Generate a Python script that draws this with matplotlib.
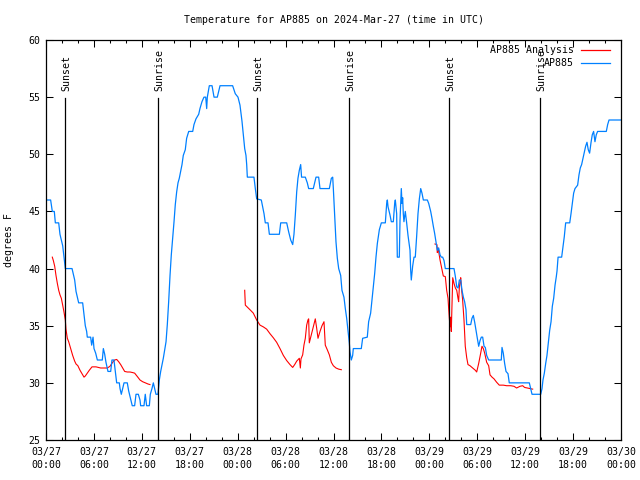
import matplotlib
matplotlib.use("Agg")
import matplotlib.pyplot as plt
import matplotlib.transforms as mtransforms
from matplotlib.lines import Line2D
from matplotlib.ticker import MultipleLocator, FixedLocator, FixedFormatter

# ---------------- data ----------------
title = "Temperature for AP885 on 2024-Mar-27 (time in UTC)"
ylabel = "degrees F"

xtick_hours = [0, 6, 12, 18, 24, 30, 36, 42, 48, 54, 60, 66, 72]
xtick_labels = ["03/27\n00:00", "03/27\n06:00", "03/27\n12:00", "03/27\n18:00",
                "03/28\n00:00", "03/28\n06:00", "03/28\n12:00", "03/28\n18:00",
                "03/29\n00:00", "03/29\n06:00", "03/29\n12:00", "03/29\n18:00",
                "03/30\n00:00"]
ytick_values = [25, 30, 35, 40, 45, 50, 55, 60]

sun_hours = [2.42, 14.06, 26.42, 37.98, 50.5, 61.9]
sun_labels = ["Sunset", "Sunrise", "Sunset", "Sunrise", "Sunset", "Sunrise"]

# AP885 observations (hours since 03/27 00:00 UTC, deg F)
obs_hours = [0.0, 0.58, 0.79, 1.04, 1.17, 1.59, 1.75, 1.92, 2.09, 2.25, 2.42, 3.26, 3.42, 3.59,
             3.76, 3.92, 4.09, 4.59, 4.76, 4.92, 5.09, 5.17, 5.59, 5.72, 5.89, 6.01, 6.22, 6.43,
             7.05, 7.18, 7.35, 7.51, 7.76, 8.10, 8.26, 8.51, 8.68, 8.85, 9.18, 9.27, 9.43, 9.6,
             9.77, 10.18, 10.35, 10.6, 10.8, 11.1, 11.27, 11.56, 11.77, 11.85, 12.27, 12.43,
             12.6, 12.94, 13.06, 13.27, 13.44, 13.6, 13.77, 14.02, 14.19, 14.36, 14.53, 14.69,
             14.86, 15.03, 15.19, 15.36, 15.53, 15.69, 15.86, 16.03, 16.19, 16.36, 16.53, 16.69,
             16.86, 17.03, 17.19, 17.44, 17.61, 17.87, 18.37, 18.53, 18.78, 19.12, 19.28, 19.53,
             19.78, 20.0, 20.12, 20.2, 20.45, 20.79, 21.04, 21.45, 21.79, 23.37, 23.7, 24.04,
             24.29, 24.54, 24.71, 24.88, 25.04, 25.13, 25.21, 26.04, 26.21, 26.38, 26.96, 27.13,
             27.3, 27.46, 27.8, 27.97, 29.22, 29.39, 30.14, 30.39, 30.64, 30.89, 31.05, 31.22,
             31.39, 31.55, 31.72, 31.89, 32.0, 32.47, 32.72, 32.89, 33.47, 33.81, 34.14, 34.31,
             35.48, 35.73, 35.9, 35.98, 36.15, 36.31, 36.48, 36.65, 36.9, 37.06, 37.31, 37.48,
             37.65, 37.82, 37.98, 38.07, 38.23, 38.4, 38.48, 39.48, 39.65, 40.23, 40.4, 40.65,
             40.82, 40.99, 41.16, 41.32, 41.49, 41.74, 41.99, 42.49, 42.66, 42.74, 42.83, 43.07,
             43.24, 43.49, 43.66, 43.74, 43.91, 43.99, 44.24, 44.33, 44.49, 44.58, 44.66, 44.74,
             44.82, 44.99, 45.16, 45.33, 45.58, 45.66, 45.74, 45.91, 46.08, 46.24, 46.41, 46.58,
             46.75, 46.92, 47.08, 47.25, 47.75, 47.92, 48.17, 48.33, 48.5, 48.66, 48.83, 49.0,
             49.17, 49.34, 49.5, 49.67, 49.84, 50.0, 51.09, 51.26, 51.43, 51.6, 51.76, 51.93,
             52.09, 52.26, 52.42, 52.59, 52.68, 53.18, 53.34, 53.51, 53.68, 53.84, 54.01, 54.18,
             54.35, 54.51, 54.68, 54.85, 55.01, 55.18, 55.43, 57.01, 57.1, 57.26, 57.43, 57.6,
             57.85, 58.01, 60.52, 60.69, 60.86, 61.95, 62.11, 62.23, 62.4, 62.57, 62.73, 62.9,
             63.07, 63.24, 63.4, 63.57, 63.74, 63.9, 63.99, 64.07, 64.12, 64.57, 64.74, 64.9,
             65.07, 65.58, 65.74, 65.9, 66.07, 66.24, 66.57, 66.74, 66.9, 67.07, 67.24, 67.4,
             67.57, 67.74, 67.9, 68.07, 68.24, 68.4, 68.57, 68.74, 68.9, 69.07, 70.16, 70.33,
             70.5, 71.92]
obs_temps = [46, 46, 45, 45, 44, 44, 43, 42.5, 42, 41, 40, 40, 39.5, 39,
             38, 37.5, 37, 37, 36, 35, 34.5, 34, 34, 33.3, 34, 33, 32.6, 32,
             32, 33, 32.5, 31.8, 31, 31, 32, 32, 31, 30, 30, 29.5, 29, 29.5,
             30, 30, 29.3, 28.6, 28, 28, 29, 29, 28.5, 28, 28, 29,
             28, 28, 29, 29.5, 30, 29.5, 29, 29, 30.25, 31.0, 31.6, 32.15,
             32.9, 33.6, 35.1, 37.1, 39.4, 41.2, 42.65, 44.1, 45.6, 46.7, 47.5, 47.9,
             48.5, 49.1, 49.9, 50.4, 51.4, 52.0, 52.0, 52.6, 53.1, 53.5, 54.0, 54.6,
             55.0, 55.0, 54.0, 55.0, 56.0, 56.0, 55.0, 55.0, 56.0, 56.0, 55.3, 55.0,
             54.3, 52.9, 51.7, 50.5, 49.9, 49.1, 48.0, 48.0, 47.0, 46.1, 46.0, 45.4,
             44.8, 44.0, 44.0, 43.0, 43.0, 44.0, 44.0, 43.2, 42.5, 42.1, 43.0, 44.7,
             46.7, 47.9, 48.6, 49.1, 48.0, 48.0, 47.5, 47.0, 47.0, 48.0, 48.0, 47.0,
             47.0, 47.9, 48.0, 47.0, 44.5, 42.35, 40.9, 40.0, 39.4, 38.1, 37.5, 36.5,
             35.65, 34.5, 33.5, 32.7, 32.0, 32.4, 33.0, 33.0, 33.9, 34.0, 35.35, 36.1,
             37.25, 38.4, 39.6, 41.0, 42.2, 43.4, 44.0, 44.0, 45.7, 46.0, 45.4, 44.7,
             44.1, 44.1, 45.7, 46.0, 44.8, 41.0, 41.0, 44.25, 47.0, 45.7, 46.2, 44.8,
             44.1, 45.0, 44.0, 42.9, 41.6, 39.9, 39.0, 40.2, 41.0, 41.0, 42.8, 44.8,
             46.1, 47.0, 46.6, 46.0, 46.0, 45.7, 45.0, 44.4, 43.7, 43.1, 42.35, 41.6,
             41.8, 41.2, 41.0, 41.0, 40.7, 40.0, 40.0, 39.3, 38.4, 38.3, 39.0, 39.0,
             38.1, 37.5, 37.1, 36.4, 35.1, 35.1, 35.65, 35.9, 35.3, 34.6, 33.9, 33.2,
             33.7, 34.0, 34.0, 33.2, 33.1, 32.4, 32.0, 32.0, 33.1, 32.6, 31.7, 31.0,
             30.8, 30.0, 30.0, 29.5, 29.0, 29.0, 29.5, 30.25, 30.85, 31.7, 32.4, 33.5,
             34.6, 35.35, 36.7, 37.4, 38.55, 39.3, 39.8, 40.5, 41.0, 41.0, 41.9, 42.8,
             44.0, 44.0, 44.8, 45.7, 46.6, 47.0, 47.3, 48.2, 48.8, 49.1, 49.65, 50.2,
             50.7, 51.05, 50.4, 50.1, 51.0, 51.7, 52.0, 51.1, 51.7, 52.0, 52.0, 52.6,
             53.0, 53.0]

# AP885 Analysis, three night-time segments
ana1_hours = [0.79, 0.92, 1.09, 1.25, 1.42, 1.59, 1.75, 1.92, 2.09, 2.25, 2.42, 2.5, 2.67, 2.84,
              3.09, 3.34, 3.59, 3.76, 3.99, 4.26, 4.51, 4.76, 4.92, 5.17, 5.42, 5.76, 6.26,
              6.85, 7.68, 8.01, 8.35, 8.6, 8.85, 9.1, 9.35, 9.6, 9.85, 10.18, 10.52, 10.85,
              11.1, 11.44, 11.77, 12.1, 12.44, 12.77, 13.02]
ana1_temps = [41.0, 40.7, 40.2, 39.4, 38.7, 38.1, 37.7, 37.4, 36.8, 36.2, 35.5, 34.7, 33.9, 33.6,
              33.0, 32.4, 31.9, 31.65, 31.5, 31.1, 30.8, 30.5, 30.6, 30.85, 31.1, 31.4, 31.4,
              31.3, 31.3, 31.45, 31.8, 32.0, 32.05, 31.85, 31.6, 31.3, 31.0, 30.95, 30.95, 30.9,
              30.85, 30.55, 30.25, 30.1, 30.0, 29.9, 29.85]

ana2_hours = [24.88, 24.96, 25.54, 25.96, 26.38, 26.8, 27.21, 27.63, 28.05, 28.46, 28.88, 29.3,
              29.72, 30.14, 30.55, 30.89, 31.14, 31.39, 31.72, 31.85, 31.93, 32.14, 32.3, 32.47,
              32.64, 32.8, 32.89, 32.97, 33.22, 33.47, 33.72, 33.89, 34.06, 34.31, 34.56, 34.81,
              34.97, 35.22, 35.48, 35.73, 35.98, 36.31, 36.65, 36.98]
ana2_temps = [38.1, 36.8, 36.4, 36.1, 35.5, 35.05, 34.9, 34.7, 34.3, 33.95, 33.55, 33.0,
              32.4, 31.95, 31.6, 31.35, 31.6, 31.9, 32.15, 31.3, 32.1, 32.45, 33.3, 33.9,
              35.05, 35.5, 35.6, 33.5, 34.2, 34.9, 35.6, 34.8, 33.9, 34.5, 35.0, 35.35,
              33.3, 32.9, 32.45, 31.8, 31.5, 31.3, 31.2, 31.15]

ana3_hours = [48.71, 48.95, 49.0, 49.1, 49.34, 49.5, 49.75, 50.0, 50.17, 50.34, 50.42, 50.5,
              50.59, 50.67, 50.75, 50.84, 50.93, 51.09, 51.26, 51.43, 51.59, 51.67, 51.76, 51.84,
              51.93, 52.01, 52.17, 52.34, 52.5, 52.68, 52.84, 53.09, 53.51, 53.76, 53.93, 54.18,
              54.43, 54.59, 54.76, 54.93, 55.18, 55.43, 55.6, 55.85, 56.1, 56.43, 56.76, 57.26,
              57.68, 58.19, 58.6, 58.93, 59.35, 59.69, 59.93, 60.27, 60.6, 60.94]
ana3_temps = [42.15, 42.1, 41.4, 41.8, 40.75, 40.2, 39.35, 39.3, 38.1, 37.4, 36.5, 35.7,
              34.9, 35.75, 34.5, 36.9, 39.2, 38.7, 38.3, 38.1, 37.4, 37.1, 38.4, 38.8,
              39.2, 38.4, 37.25, 35.5, 33.2, 32.2, 31.6, 31.5, 31.25, 31.1, 30.95, 31.7,
              32.6, 33.2, 33.0, 32.6, 31.8, 31.5, 30.7, 30.5, 30.35, 30.05, 29.8, 29.8,
              29.75, 29.75, 29.7, 29.55, 29.7, 29.75, 29.6, 29.55, 29.5, 29.45]

series_labels = ["AP885 Analysis", "AP885"]
series_colors = ["#ff0000", "#0080ff"]

# ---------------- plot ----------------
FONT = "DejaVu Sans Mono"
FS = 7.1
plt.rcParams["font.family"] = [FONT]
plt.rcParams["font.size"] = FS

fig = plt.figure(figsize=(6.4, 4.8), dpi=100)
ax = fig.add_axes([46 / 640, 40 / 480, 575 / 640, 400 / 480])

for th, tv in [(ana1_hours, ana1_temps), (ana2_hours, ana2_temps), (ana3_hours, ana3_temps)]:
    ax.plot(th, tv, color=series_colors[0], lw=0.8)
ax.plot(obs_hours, obs_temps, color=series_colors[1], lw=0.9)

ax.set_xlim(0, 72)
ax.set_ylim(25, 60)

trans = mtransforms.blended_transform_factory(ax.transData, ax.transAxes)
for h, lab in zip(sun_hours, sun_labels):
    ax.axvline(h, ymin=0, ymax=0.855, color="black", lw=0.9)
    ax.text(h + 0.15, 0.872, lab, transform=trans, rotation=90, ha="center", va="bottom",
            fontsize=FS)

ax.xaxis.set_major_locator(FixedLocator(xtick_hours))
ax.xaxis.set_major_formatter(FixedFormatter(xtick_labels))
ax.xaxis.set_minor_locator(MultipleLocator(2))
ax.set_yticks(ytick_values)

ax.tick_params(which="both", direction="in", top=True, right=True, width=0.75, labelsize=FS)
ax.tick_params(which="major", length=5)
ax.tick_params(which="minor", length=2.5)
ax.tick_params(axis="x", which="major", pad=5)
ax.tick_params(axis="y", which="major", pad=4)
for t in ax.get_xticklabels():
    t.set_linespacing(1.4)

for s in ax.spines.values():
    s.set_linewidth(0.9)

ax.set_title(title, fontsize=FS, pad=12)
ax.set_ylabel(ylabel, fontsize=FS)
ax.yaxis.set_label_coords(-0.055, 0.5)

# legend (gnuplot style: right-aligned text, sample line on the right)
leg_rows = [0.975, 0.9425]
for lab, col, yy in zip(series_labels, series_colors, leg_rows):
    ax.text(0.9183, yy, lab, transform=ax.transAxes, ha="right", va="center", fontsize=FS)
    ax.add_line(Line2D([0.9304, 0.981], [yy, yy], transform=ax.transAxes, color=col, lw=0.9,
                       clip_on=False))

fig.savefig("out.png", dpi=100)
